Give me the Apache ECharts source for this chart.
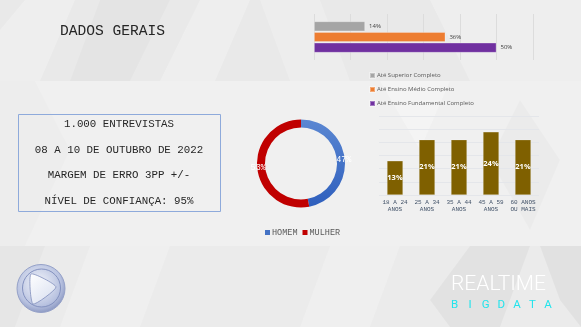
<!DOCTYPE html>
<html>
<head>
<meta charset="utf-8">
<script src="https://cdn.jsdelivr.net/npm/echarts@6/dist/echarts.min.js"></script>
<style>
  html, body { margin: 0; padding: 0; background: #ececec; }
  #chart { width: 581px; height: 327px; }
</style>
</head>
<body>
<div id="chart"></div>
<script>
// Escolaridade
const educationSeries = ['Até Superior Completo', 'Até Ensino Médio Completo', 'Até Ensino Fundamental Completo'];
const educationValues = [14, 36, 50];
const educationColors = ['#a5a5a5', '#ed7d31', '#7030a0'];

// Sexo
const genderNames = ['HOMEM', 'MULHER'];
const genderValues = [47, 53];

// Faixa etária
const ageCategories = ['18 A 24\nANOS', '25 A 34\nANOS', '35 A 44\nANOS', '45 A 59\nANOS', '60 ANOS\nOU MAIS'];
const ageValues = [13, 21, 21, 24, 21];

// Ficha técnica
const title = 'DADOS GERAIS';
const infoLines = ['1.000 ENTREVISTAS', '08 A 10 DE OUTUBRO DE 2022', 'MARGEM DE ERRO 3PP +/-', 'NÍVEL DE CONFIANÇA: 95%'];
const brandTop = 'REALTIME';
const brandBottom = 'BIGDATA';

const mono = '"Liberation Mono", "DejaVu Sans Mono", monospace';
const sans = '"Open Sans", "Noto Sans", sans-serif';

const chart = echarts.init(document.getElementById('chart'), null, { renderer: 'canvas' });

// background bands and soft diamond facets
const light = a => 'rgba(255,255,255,' + a + ')';
const dark = a => 'rgba(0,0,0,' + a + ')';
const bgShapes = [
  { type: 'rect', shape: { x: 0, y: 0, width: 581, height: 81 }, style: { fill: '#e9e9e9' } },
  { type: 'rect', shape: { x: 0, y: 81, width: 581, height: 165 }, style: { fill: '#f0f0f0' } },
  { type: 'rect', shape: { x: 0, y: 246, width: 581, height: 81 }, style: { fill: '#ebebeb' } },
  // top band
  { type: 'polygon', shape: { points: [[0, 30], [25, 0], [75, 0], [40, 81], [0, 81]] }, style: { fill: light(0.25) } },
  { type: 'polygon', shape: { points: [[100, 0], [170, 0], [130, 81], [70, 81]] }, style: { fill: dark(0.02) } },
  { type: 'polygon', shape: { points: [[160, 81], [200, 0], [250, 0], [215, 81]] }, style: { fill: light(0.25) } },
  { type: 'polygon', shape: { points: [[260, 0], [320, 0], [350, 81], [290, 81]] }, style: { fill: light(0.2) } },
  { type: 'polygon', shape: { points: [[430, 0], [581, 0], [581, 81], [470, 81]] }, style: { fill: light(0.25) } },
  // middle band
  { type: 'polygon', shape: { points: [[0, 81], [35, 81], [70, 150], [25, 246], [0, 246]] }, style: { fill: dark(0.012) } },
  { type: 'polygon', shape: { points: [[380, 81], [450, 81], [420, 150]] }, style: { fill: light(0.25) } },
  { type: 'polygon', shape: { points: [[520, 100], [560, 160], [530, 230], [490, 160]] }, style: { fill: dark(0.018) } },
  // bottom band
  { type: 'polygon', shape: { points: [[0, 246], [45, 246], [15, 327], [0, 327]] }, style: { fill: dark(0.02) } },
  { type: 'polygon', shape: { points: [[90, 246], [170, 246], [140, 327], [60, 327]] }, style: { fill: light(0.22) } },
  { type: 'polygon', shape: { points: [[330, 246], [400, 246], [370, 327], [300, 327]] }, style: { fill: light(0.2) } },
  { type: 'polygon', shape: { points: [[430, 300], [470, 246], [530, 246], [500, 327], [450, 327]] }, style: { fill: dark(0.035) } },
  { type: 'polygon', shape: { points: [[540, 246], [581, 246], [581, 327], [560, 300]] }, style: { fill: dark(0.04) } }
];

const infoTexts = infoLines.map((t, i) => ({
  type: 'text', x: 119, y: [124, 150, 175.5, 201][i],
  style: { text: t, font: '10.8px ' + mono, fill: '#262626', align: 'center', verticalAlign: 'middle' }
}));

// spaced wordmark letters
const brandLetters = brandBottom.split('').map((ch, i) => ({
  type: 'text', x: 454.5 + i * 15.6, y: 305,
  style: { text: ch, font: '400 11.5px Roboto, sans-serif', fill: '#22e4ec', align: 'center', verticalAlign: 'middle' }
}));

const graphics = [].concat(bgShapes, [
  { type: 'text', x: 60, y: 31, style: { text: title, font: '14.6px ' + mono, fill: '#262626', verticalAlign: 'middle' } },
  { type: 'rect', shape: { x: 18.5, y: 114.5, width: 202, height: 97 }, style: { fill: 'none', stroke: '#8eaadb', lineWidth: 1 } }
], infoTexts, [
  // logo sphere
  { type: 'circle', shape: { cx: 41, cy: 288.5, r: 24 },
    style: { fill: new echarts.graphic.RadialGradient(0.45, 0.4, 0.7, [
      { offset: 0, color: '#f4f6fb' }, { offset: 0.65, color: '#b8c2e0' }, { offset: 1, color: '#6d7cae' }]),
      stroke: '#95a1c8', lineWidth: 1 } },
  { type: 'circle', shape: { cx: 41.5, cy: 288, r: 19 },
    style: { fill: 'none', stroke: '#8391bf', lineWidth: 1 } },
  { type: 'polygon', shape: { points: [[31, 274], [56, 287], [33, 304]], smooth: 0.2 },
    style: { fill: new echarts.graphic.LinearGradient(0, 0, 1, 1, [
      { offset: 0, color: '#ffffff' }, { offset: 1, color: '#d6ddef' }]),
      stroke: '#7f8dbb', lineWidth: 0.8 } },
  { type: 'text', x: 451, y: 285, style: { text: brandTop, font: '300 21px Roboto, sans-serif', fill: '#ffffff', verticalAlign: 'middle' } }
], brandLetters);

const option = {
  backgroundColor: '#ececec',
  animation: false,
  graphic: graphics,
  grid: [
    { left: 314, width: 219, top: 14, height: 46, containLabel: false },
    { left: 379, width: 160, top: 116, height: 79, containLabel: false }
  ],
  legend: [
    {
      data: educationSeries, orient: 'vertical', left: 364, top: 67,
      itemWidth: 5, itemHeight: 5, itemGap: 7, icon: 'rect',
      textStyle: { fontSize: 6, color: '#595959', fontFamily: sans, padding: [0, 0, 0, -3] }
    },
    {
      data: genderNames.map((n, i) => ({ name: n, itemStyle: { color: i === 0 ? '#4472c4' : '#c00000' } })),
      orient: 'horizontal', left: 260, top: 223,
      itemWidth: 5, itemHeight: 5, itemGap: 5, icon: 'rect',
      textStyle: { fontSize: 8.5, color: '#595959', fontFamily: mono, padding: [0, 0, 0, -3] }
    }
  ],
  xAxis: [
    { type: 'value', gridIndex: 0, min: 0, max: 60, interval: 10,
      axisLabel: { show: false }, axisLine: { show: false }, axisTick: { show: false },
      splitLine: { lineStyle: { color: '#dcdcdc', width: 1 } } },
    { type: 'category', gridIndex: 1, data: ageCategories,
      axisLine: { show: false }, axisTick: { show: false },
      axisLabel: { fontSize: 6, lineHeight: 7, color: '#44546a', fontFamily: mono, margin: 4, interval: 0 } }
  ],
  yAxis: [
    { type: 'category', gridIndex: 0, data: [''], inverse: true,
      axisLabel: { show: false }, axisLine: { show: false }, axisTick: { show: false } },
    { type: 'value', gridIndex: 1, min: 0, max: 30, interval: 5,
      axisLabel: { show: false }, axisLine: { show: false }, axisTick: { show: false },
      splitLine: { lineStyle: { color: '#e4e6ea', width: 1 } } }
  ],
  series: educationSeries.map((name, i) => ({
    type: 'bar', name: name, xAxisIndex: 0, yAxisIndex: 0,
    data: [educationValues[i]], barWidth: 10, barGap: '7%',
    itemStyle: { color: educationColors[i], borderColor: 'rgba(255,255,255,0.35)', borderWidth: 0.8 },
    label: { show: true, position: 'right', distance: 4, formatter: '{c}%', fontSize: 6, color: '#404040', fontFamily: sans }
  })).concat([
    {
      type: 'pie', name: 'Sexo', center: [301, 163.5], radius: [36, 44], startAngle: 90, clockwise: true,
      data: genderNames.map((n, i) => ({
        name: n, value: genderValues[i],
        itemStyle: { color: i === 0
          ? new echarts.graphic.LinearGradient(0, 0, 0, 1, [{ offset: 0, color: '#5b87d2' }, { offset: 1, color: '#2e5fbd' }])
          : '#c00000' }
      })),
      label: { show: true, position: 'inside', formatter: '{c}%', color: '#ffffff', fontSize: 8.5, fontFamily: mono },
      labelLine: { show: false },
      emphasis: { disabled: true }
    },
    {
      type: 'bar', name: 'Faixa etária', xAxisIndex: 1, yAxisIndex: 1,
      data: ageValues, barWidth: 16,
      itemStyle: { color: '#7f6000', borderColor: 'rgba(255,255,255,0.3)', borderWidth: 0.6 },
      label: { show: true, position: 'inside', formatter: '{c}%', color: '#ffffff', fontSize: 7.5, fontWeight: 'bold', fontFamily: sans }
    }
  ])
};

chart.setOption(option);
</script>
</body>
</html>
